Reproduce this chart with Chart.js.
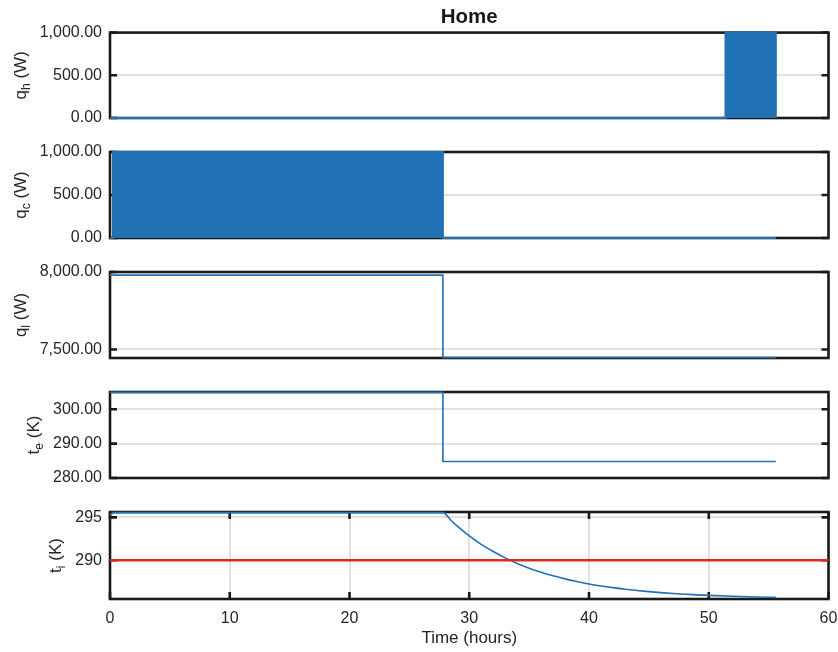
<!DOCTYPE html>
<html>
<head>
<meta charset="utf-8">
<script src="https://cdn.jsdelivr.net/npm/chart.js@4"></script>
<style>
  html, body { margin: 0; padding: 0; background: #ffffff; }
  #wrap { position: relative; width: 838px; height: 652px; overflow: hidden; background: #fff; }
  canvas { position: absolute; left: 0; }
</style>
</head>
<body>
<div id="wrap">
  <canvas id="c0" width="838" height="130" style="top:0px"></canvas>
  <canvas id="c1" width="838" height="110" style="top:140px"></canvas>
  <canvas id="c2" width="838" height="110" style="top:260px"></canvas>
  <canvas id="c3" width="838" height="110" style="top:380px"></canvas>
  <canvas id="c4" width="838" height="152" style="top:500px"></canvas>
</div>
<script>
// ---------------- data ----------------
const chartTitle = 'Home';
const xAxisTitle = 'Time (hours)';
const xTickValues = [0, 10, 20, 30, 40, 50, 60];

// heating power q_h (W): bang-bang switching drawn as a solid block
const qhTime = [0, 51.4, 51.4, 55.6, 55.6];
const qhW    = [0, 0, 1000, 1000, 0];
const qhTicks = [0, 500, 1000];

// cooling power q_c (W)
const qcTime = [0, 0.25, 0.25, 27.8, 27.8, 55.6];
const qcW    = [0, 0, 1000, 1000, 0, 0];
const qcTicks = [0, 500, 1000];

// internal load q_l (W)
const qlTime = [0, 27.8, 27.8, 55.6];
const qlW    = [7980, 7980, 7448, 7448];
const qlTicks = [7500, 8000];

// external temperature t_e (K)
const teTime = [0, 27.8, 27.8, 55.6];
const teK    = [304.9, 304.9, 284.8, 284.8];
const teTicks = [280, 290, 300];

// indoor temperature t_i (K)
const tiTime = [0, 0.3, 27.8, 28.5, 29, 30, 31, 32, 33, 34, 35, 36, 37, 38, 39, 40, 41, 42, 43, 44, 45, 46, 47, 48, 49, 50, 52, 54, 55.6];
const tiK    = [295.3, 295.55, 295.55, 294.6, 293.97, 292.84, 291.86, 291.02, 290.28, 289.64, 289.09, 288.61, 288.2, 287.84, 287.53, 287.25, 287.02, 286.82, 286.64, 286.49, 286.36, 286.24, 286.14, 286.06, 285.98, 285.92, 285.82, 285.74, 285.69];
// set point (K)
const setTime = [0, 60];
const setK    = [290, 290];
const tiTicks = [290, 295];

// ---------------- styling ----------------
const BLUE = '#2171b5';
const RED = '#e02a20';
const GRID = '#e1e1e1';
const INK = '#1a1a1a';
const FONT = "'Liberation Sans', Arial, Helvetica, sans-serif";
const TICK_SIZE = 16;
Chart.defaults.font.family = FONT;
Chart.defaults.color = '#262626';
Chart.defaults.animation = false;

function pts(xs, ys) { return xs.map((x, i) => ({ x: x, y: ys[i] })); }
function fmt2(v) { return Number(v).toLocaleString('en-US', { minimumFractionDigits: 2, maximumFractionDigits: 2 }); }
function fmt0(v) { return String(Math.round(v)); }

// frame + inward tick marks (drawn under the data, like the reference) + y-axis title with subscript
const framePlugin = {
  id: 'frame',
  beforeDatasetsDraw(chart, args, opts) {
    const { ctx, chartArea: a } = chart;
    ctx.save();
    ctx.strokeStyle = INK;
    ctx.lineWidth = 2.6;
    ctx.lineCap = 'butt';
    const tl = 7;
    const ys = chart.scales.y;
    ys.ticks.forEach(t => {
      const py = ys.getPixelForValue(t.value);
      ctx.beginPath();
      ctx.moveTo(a.left, py); ctx.lineTo(a.left + tl, py);
      ctx.moveTo(a.right, py); ctx.lineTo(a.right - tl, py);
      ctx.stroke();
    });
    if (opts.xTicks) {
      const xs = chart.scales.x;
      xs.ticks.forEach(t => {
        const px = xs.getPixelForValue(t.value);
        ctx.beginPath();
        ctx.moveTo(px, a.bottom); ctx.lineTo(px, a.bottom - tl);
        ctx.moveTo(px, a.top); ctx.lineTo(px, a.top + tl);
        ctx.stroke();
      });
    }
    ctx.strokeRect(a.left, a.top, a.right - a.left, a.bottom - a.top);
    ctx.restore();
  },
  afterDraw(chart, args, opts) {
    if (!opts.label) return;
    const { ctx, chartArea: a } = chart;
    const ys = chart.scales.y;
    ctx.save();
    ctx.font = TICK_SIZE + 'px ' + FONT;
    let maxW = 0;
    ys.ticks.forEach(t => { maxW = Math.max(maxW, ctx.measureText(t.label).width); });
    const labelLeft = a.left - 8 - maxW;
    const bx = labelLeft - 14;
    const cy = (a.top + a.bottom) / 2;
    const mainFont = '17px ' + FONT;
    const subFont = '12px ' + FONT;
    ctx.font = mainFont;
    const w1 = ctx.measureText(opts.label[0]).width;
    const w3 = ctx.measureText(opts.label[2]).width;
    ctx.font = subFont;
    const w2 = ctx.measureText(opts.label[1]).width;
    const total = w1 + w2 + w3;
    ctx.translate(bx, cy);
    ctx.rotate(-Math.PI / 2);
    ctx.fillStyle = '#262626';
    ctx.textBaseline = 'alphabetic';
    ctx.textAlign = 'left';
    let x = -total / 2;
    ctx.font = mainFont; ctx.fillText(opts.label[0], x, 0); x += w1;
    ctx.font = subFont; ctx.fillText(opts.label[1], x, 4); x += w2;
    ctx.font = mainFont; ctx.fillText(opts.label[2], x, 0);
    ctx.restore();
  }
};

function makeChart(id, o) {
  const datasets = o.series.map(s => ({
    data: pts(s.x, s.y),
    borderColor: s.color,
    backgroundColor: s.color,
    borderWidth: s.width || 1.6,
    pointRadius: 0,
    tension: 0,
    cubicInterpolationMode: s.smooth ? 'monotone' : 'default',
    clip: false,
    fill: s.fill ? 'origin' : false
  }));
  return new Chart(document.getElementById(id), {
    type: 'line',
    data: { datasets },
    options: {
      responsive: false,
      animation: false,
      layout: { padding: { top: o.padTop, bottom: o.padBottom, left: 0, right: 9.5 } },
      plugins: {
        legend: { display: false },
        tooltip: { enabled: false },
        title: o.title ? {
          display: true, text: o.title, fullSize: false,
          font: { size: 20.5, weight: 'bold', family: FONT }, color: INK,
          padding: { top: 5, bottom: 3 }
        } : { display: false },
        frame: { label: o.label, xTicks: o.showX }
      },
      scales: {
        x: {
          type: 'linear', min: 0, max: 60,
          display: o.showX,
          afterBuildTicks: s => { s.ticks = xTickValues.map(v => ({ value: v })); },
          afterFit: s => { if (o.showX) s.height = 53; s.paddingLeft = 0; s.paddingRight = 0; },
          grid: { color: GRID, lineWidth: 2, drawTicks: false },
          border: { display: false },
          ticks: { font: { size: TICK_SIZE }, padding: 10, color: '#262626', maxRotation: 0 },
          title: { display: o.showX, text: xAxisTitle, font: { size: 17 }, color: '#262626', padding: { top: 0, bottom: 3 } }
        },
        y: {
          type: 'linear', min: o.min, max: o.max,
          afterBuildTicks: s => { s.ticks = o.ticks.map(v => ({ value: v })); },
          afterFit: s => { s.width = 110; s.paddingTop = 0; s.paddingBottom = 0; },
          grid: { color: GRID, lineWidth: 2, drawTicks: false },
          border: { display: false },
          ticks: { font: { size: TICK_SIZE }, padding: 8, color: '#262626', callback: o.fmt }
        }
      }
    },
    plugins: [framePlugin]
  });
}

makeChart('c0', { title: chartTitle, padTop: 0, padBottom: 12, min: 0, max: 1000, ticks: qhTicks, fmt: fmt2,
  label: ['q', 'h', ' (W)'], showX: false,
  series: [{ x: qhTime, y: qhW, color: BLUE, fill: true, width: 2 }] });
makeChart('c1', { padTop: 12, padBottom: 12, min: 0, max: 1000, ticks: qcTicks, fmt: fmt2,
  label: ['q', 'c', ' (W)'], showX: false,
  series: [{ x: qcTime, y: qcW, color: BLUE, fill: true, width: 2 }] });
makeChart('c2', { padTop: 12, padBottom: 12, min: 7445, max: 8000, ticks: qlTicks, fmt: fmt2,
  label: ['q', 'l', ' (W)'], showX: false,
  series: [{ x: qlTime, y: qlW, color: BLUE }] });
makeChart('c3', { padTop: 12, padBottom: 12, min: 280, max: 305, ticks: teTicks, fmt: fmt2,
  label: ['t', 'e', ' (K)'], showX: false,
  series: [{ x: teTime, y: teK, color: BLUE }] });
makeChart('c4', { padTop: 12, padBottom: 0, min: 285.5, max: 295.62, ticks: tiTicks, fmt: fmt0,
  label: ['t', 'i', ' (K)'], showX: true,
  series: [{ x: setTime, y: setK, color: RED, width: 2.6 }, { x: tiTime, y: tiK, color: BLUE, smooth: true }] });
</script>
</body>
</html>
